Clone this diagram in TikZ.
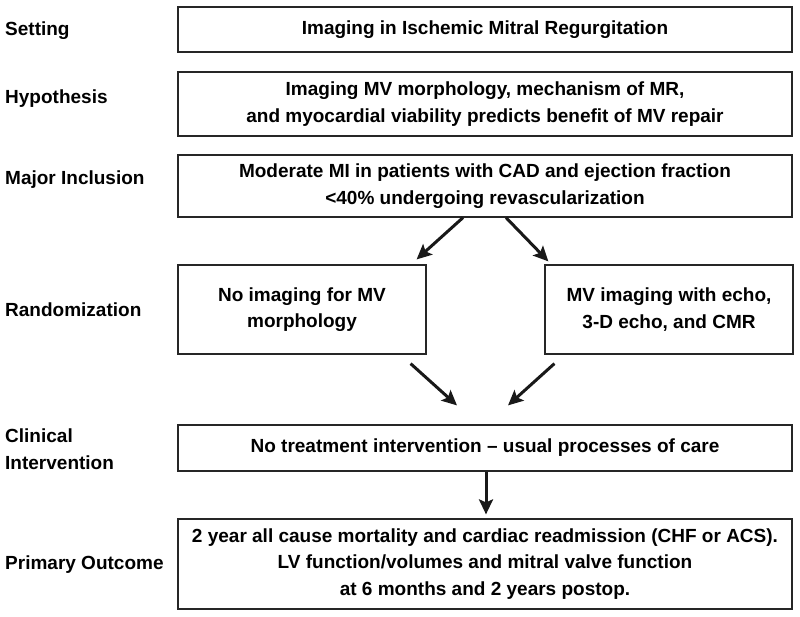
\documentclass[tikz,border=0pt]{standalone}
\usepackage{fontspec}
\setmainfont{Liberation Sans}
\usetikzlibrary{calc,arrows.meta}
\tikzstyle{stage} = [rectangle,
                      anchor=west,
                      inner sep=0pt,
                      align=left,
                      font=\fontsize{19}{26.5}\selectfont\bfseries]
\tikzstyle{bx} = [rectangle,
                      line width=1.2pt,
                      draw=black!85,
                      inner sep=2pt,
                      align=center,
                      text centered,
                      font=\fontsize{19}{26.7}\selectfont\bfseries,
                      minimum width=614pt]
\tikzstyle{hbx} = [bx,
                      minimum width=248pt,
                      minimum height=89pt]
\tikzstyle{arr} = [line width=3pt,
                      black!90,
                      -{Stealth[length=15pt,width=14pt,inset=3pt]}]

\begin{document}
\begin{tikzpicture}[x=1pt,y=-1pt]
     \useasboundingbox (0,0) rectangle (800,616);
     % stages on the left
     \node [stage] (lset)  at (5,31)  {Setting};
     \node [stage] (lhyp)  at (5,99)  {Hypothesis};
     \node [stage] (linc)  at (5,180) {Major Inclusion};
     \node [stage] (lrand) at (5,310) {Randomization};
     \node [stage] (lclin) at (5,449) {Clinical\\Intervention};
     \node [stage] (lout)  at (5,565) {Primary Outcome};
     % boxes
     \node [bx, minimum height=45pt] (set) at (485,29.5) {Imaging in Ischemic Mitral Regurgitation};
     \node [bx, minimum height=64pt] (hyp) at (485,104) {Imaging MV morphology, mechanism of MR,\\and myocardial viability predicts benefit of MV repair};
     \node [bx, minimum height=62pt] (inc) at (485,186) {Moderate MI in patients with CAD and ejection fraction\\<40\% undergoing revascularization};
     \node [hbx] (randl) at (302,309.5) {No imaging for MV\\morphology};
     \node [hbx] (randr) at (669,309.5) {MV imaging with echo,\\3-D echo, and CMR};
     \node [bx, minimum height=46pt] (clin) at (485,448) {No treatment intervention -- usual processes of care};
     \node [bx, minimum height=90pt] (out) at (485,564) {2 year all cause mortality and cardiac readmission (CHF or ACS).\\LV function/volumes and mitral valve function\\at 6 months and 2 years postop.};
     % arrows
     \draw [arr] ($(inc.south)+(-22,0)$) -- ($(randl.north east)+(-10,-5)$);
     \draw [arr] ($(inc.south)+(21,0)$) -- ($(randr.north west)+(4,-3)$);
     \draw [arr] ($(randl.south east)+(-16,9)$) -- ($(clin.north)+(-28,-19)$);
     \draw [arr] ($(randr.south west)+(10,9)$) -- ($(clin.north)+(23,-19)$);
     \draw [arr] ($(clin.south)+(1,0)$) -- ($(out.north)+(1,-4)$);
\end{tikzpicture}
\end{document}
